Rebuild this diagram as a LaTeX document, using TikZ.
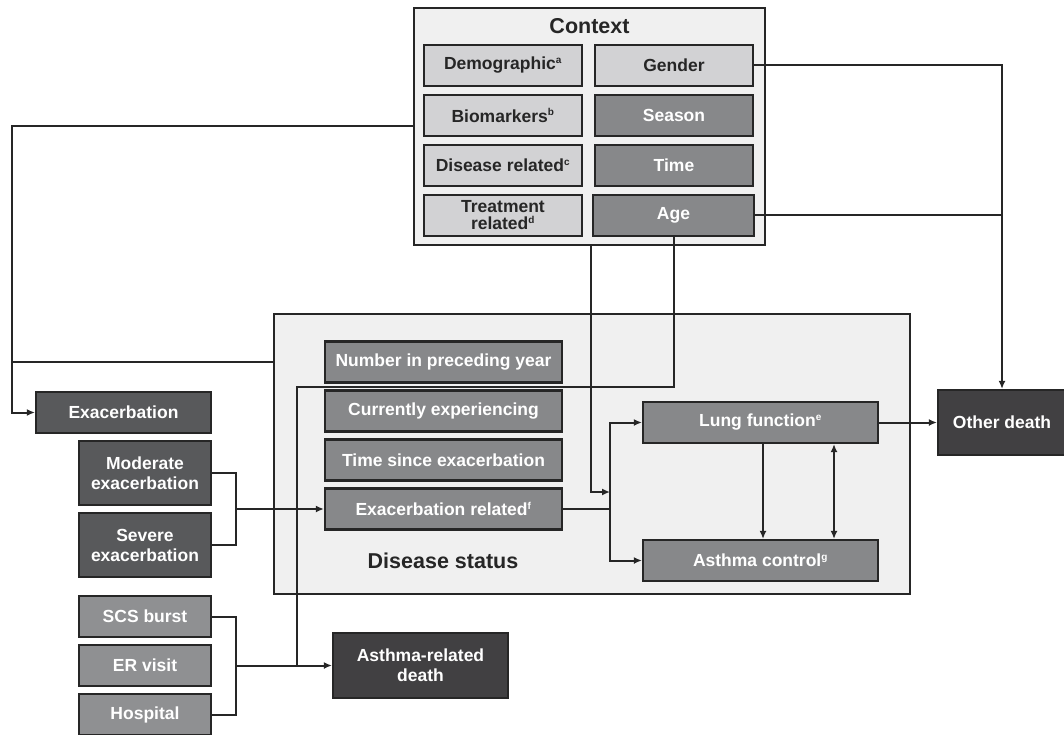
\documentclass[tikz,border=0pt]{standalone}
\usepackage{fontspec}
\setmainfont{Liberation Sans}
\usetikzlibrary{arrows.meta}
\definecolor{cont}{HTML}{F0F0F0}
\definecolor{light}{HTML}{D2D2D4}
\definecolor{mid}{HTML}{87888A}
\definecolor{midb}{HTML}{8F9092}
\definecolor{darkb}{HTML}{58595B}
\definecolor{darker}{HTML}{414042}
\definecolor{edge}{HTML}{262626}
\tikzset{
  base/.style={draw=edge, line width=2.2pt, inner sep=2pt, align=center,
    font=\fontsize{17.5}{20}\selectfont\bfseries},
  lbox/.style={base, fill=light, text=edge, minimum width=158pt, minimum height=41pt},
  mbox/.style={base, fill=mid, text=white, minimum height=41pt},
  sbox/.style={base, fill=midb, text=white, minimum width=132pt, minimum height=41pt},
  dbox/.style={base, fill=darkb, text=white},
  xbox/.style={base, fill=darker, text=white},
  container/.style={draw=edge, line width=2.2pt, fill=cont},
  conn/.style={draw=edge, line width=2pt},
  arr/.style={conn, -{Latex[length=8pt,width=7pt]}},
  barr/.style={conn, {Latex[length=8pt,width=7pt]}-{Latex[length=8pt,width=7pt]}},
  title/.style={font=\fontsize{21.5}{24}\selectfont\bfseries, text=edge}
}
\newcommand{\sps}[1]{\textsuperscript{\fontsize{10}{10}\selectfont #1}}
\begin{document}
\begin{tikzpicture}[x=1pt,y=-1pt]
\useasboundingbox (0,0) rectangle (1064,735);
% containers
\node[container, minimum width=351pt, minimum height=237pt] (ctx) at (589.5,126.5) {};
\node[title] (ctxt) at (589.5,26) {Context};
\node[container, minimum width=636pt, minimum height=280pt] (ds) at (592,454) {};
\node[title] (dst) at (443,561) {Disease status};
% context boxes
\node[lbox] (demo) at (503,65.5) {Demographic\sps{a}};
\node[lbox] (bio) at (503,115.5) {Biomarkers\sps{b}};
\node[lbox] (dis) at (503,165.5) {Disease related\sps{c}};
\node[lbox, font=\fontsize{17.5}{17}\selectfont\bfseries] (treat) at (503,215.5) {Treatment\\related\sps{d}};
\node[lbox] (gender) at (674,65.5) {Gender};
\node[mbox, minimum width=158pt] (season) at (674,115.5) {Season};
\node[mbox, minimum width=158pt] (time) at (674,165.5) {Time};
\node[mbox, minimum width=161pt] (age) at (673.5,215.5) {Age};
% disease status boxes
\node[mbox, minimum width=237pt] (num) at (443.5,362) {Number in preceding year};
\node[mbox, minimum width=237pt] (curr) at (443.5,411) {Currently experiencing};
\node[mbox, minimum width=237pt] (tse) at (443.5,460) {Time since exacerbation};
\node[mbox, minimum width=237pt] (exrel) at (443.5,509) {Exacerbation related\sps{f}};
\node[mbox, minimum width=235pt] (lung) at (760.5,422.5) {Lung function\sps{e}};
\node[mbox, minimum width=235pt] (ac) at (760.5,560.5) {Asthma control\sps{g}};
% outcomes
\node[xbox, minimum width=128pt, minimum height=65pt] (other) at (1002,422.5) {Other death};
\node[xbox, minimum width=175pt, minimum height=65pt] (ard) at (420.5,665.5) {Asthma-related\\death};
% exacerbations
\node[dbox, minimum width=175pt, minimum height=41pt] (exac) at (123.5,412.5) {Exacerbation};
\node[dbox, minimum width=132pt, minimum height=64pt] (mod) at (145,473) {Moderate\\exacerbation};
\node[dbox, minimum width=132pt, minimum height=64pt] (sev) at (145,545) {Severe\\exacerbation};
\node[sbox] (scs) at (145,616.5) {SCS burst};
\node[sbox] (er) at (145,665.5) {ER visit};
\node[sbox] (hosp) at (145,714.5) {Hospital};
% coordinates
\coordinate (L) at (12,126.5);
\coordinate (J) at (610,509);
\coordinate (K) at (297,387);
\coordinate (B1) at (236,509);
\coordinate (B2) at (236,665.5);
% connectors
\draw[arr] (gender.east) -| (other.north);
\draw[conn] (age.east) -- (other.north |- age.east);
\draw[arr] (ctx.west) -- (L) |- (exac.west);
\draw[conn] (L |- num.west) -- (ds.west |- num.west);
\draw[arr] ([xshift=1.5pt]ctx.south) |- ([yshift=17pt]J);
\draw[conn] (exrel.east) -- (J);
\draw[arr] (J) |- (lung.west);
\draw[arr] (J) |- (ac.west);
\draw[conn] (age.south) |- (K) -- (K |- B2);
\draw[conn] (mod.east) -| (B1) |- (sev.east);
\draw[arr] (B1) -- (exrel.west);
\draw[conn] (scs.east) -| (B2) |- (hosp.east);
\draw[arr] (B2) -- (ard.west);
\draw[arr] ([xshift=2.5pt]lung.south) -- ([xshift=2.5pt]ac.north);
\draw[barr] ([xshift=73.5pt]lung.south) -- ([xshift=73.5pt]ac.north);
\draw[arr] (lung.east) -- (other.west);
\end{tikzpicture}
\end{document}
